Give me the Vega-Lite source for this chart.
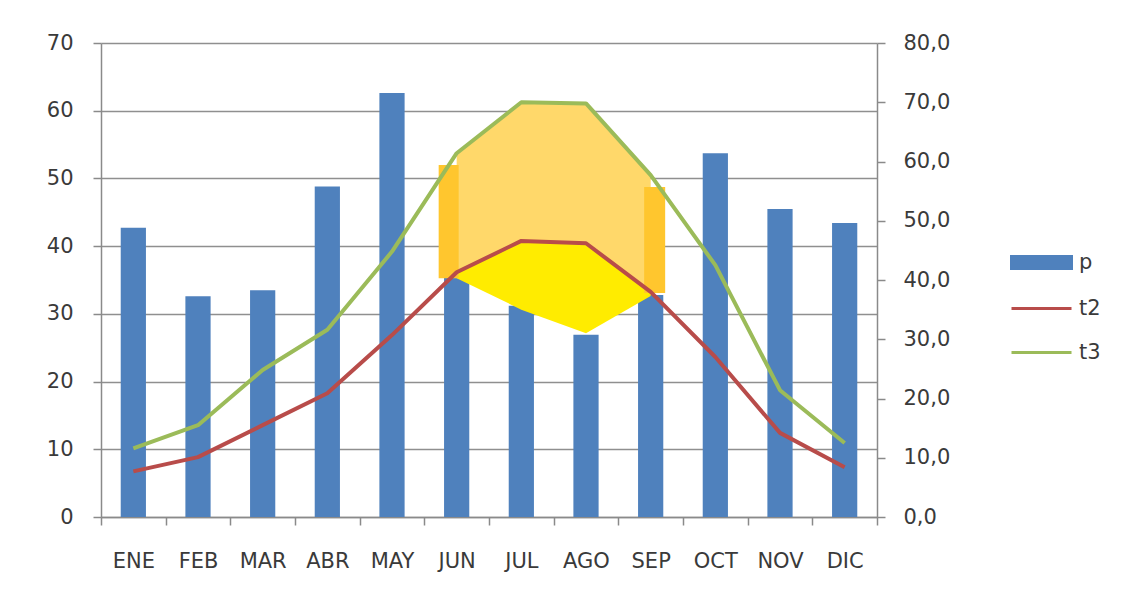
{
  "$schema": "https://vega.github.io/schema/vega-lite/v6.json",
  "width": 776,
  "height": 474,
  "autosize": {"type": "none"},
  "padding": {"left": 101, "top": 43, "right": 249, "bottom": 81},
  "background": "white",
  "config": {
    "font": "DejaVu Sans",
    "view": {"stroke": null},
    "axis": {
      "labelFont": "DejaVu Sans",
      "labelFontSize": 21,
      "labelColor": "#3a3a3a",
      "domainColor": "#8a8a8a",
      "domainWidth": 1.5,
      "tickColor": "#8a8a8a",
      "tickWidth": 1.5,
      "tickSize": 8,
      "gridColor": "#8f8f8f",
      "gridWidth": 1.5,
      "title": null
    },
    "legend": {"title": null}
  },
  "datasets": {
    "clima": [
      {"mes": "ENE", "p": 42.7, "t2": 7.7, "t3": 11.6},
      {"mes": "FEB", "p": 32.6, "t2": 10.1, "t3": 15.5},
      {"mes": "MAR", "p": 33.5, "t2": 15.5, "t3": 24.8},
      {"mes": "ABR", "p": 48.8, "t2": 20.9, "t3": 31.6},
      {"mes": "MAY", "p": 62.6, "t2": 30.7, "t3": 44.8},
      {"mes": "JUN", "p": 35.3, "t2": 41.3, "t3": 61.4},
      {"mes": "JUL", "p": 31.2, "t2": 46.6, "t3": 70.0},
      {"mes": "AGO", "p": 26.9, "t2": 46.2, "t3": 69.8},
      {"mes": "SEP", "p": 32.8, "t2": 38.0, "t3": 57.7},
      {"mes": "OCT", "p": 53.7, "t2": 27.0, "t3": 42.5},
      {"mes": "NOV", "p": 45.5, "t2": 14.2, "t3": 21.4},
      {"mes": "DIC", "p": 43.4, "t2": 8.4, "t3": 12.5}
    ],
    "verano": [
      {"mes": "JUN", "t2": 41.3, "t3": 61.4, "base": 40.3, "franja_alto": 59.4, "franja_bajo": 40.3},
      {"mes": "JUL", "t2": 46.6, "t3": 70.0, "base": 35.0},
      {"mes": "AGO", "t2": 46.2, "t3": 69.8, "base": 31.0},
      {"mes": "SEP", "t2": 38.0, "t3": 57.7, "base": 37.3, "franja_alto": 55.7, "franja_bajo": 37.8}
    ]
  },
  "layer": [
    {
      "data": {"name": "clima"},
      "mark": {"type": "bar", "width": {"band": 0.39}, "color": "#4F81BD"},
      "encoding": {
        "x": {
          "field": "mes", "type": "nominal", "sort": null,
          "scale": {"domain": ["ENE","FEB","MAR","ABR","MAY","JUN","JUL","AGO","SEP","OCT","NOV","DIC"], "paddingInner": 0, "paddingOuter": 0},
          "axis": {"labelAngle": 0, "tickBand": "extent", "labelPadding": 25, "grid": false}
        },
        "y": {
          "field": "p", "type": "quantitative",
          "scale": {"domain": [0, 70]},
          "axis": {"values": [0,10,20,30,40,50,60,70], "grid": true, "labelPadding": 20}
        },
        "color": {
          "datum": "p", "type": "nominal",
          "scale": {"domain": ["p", "t2", "t3"], "range": ["#4F81BD", "#B84C4A", "#9BBB59"]},
          "legend": {
            "orient": "none",
            "legendX": 909,
            "legendY": 188,
            "title": null,
            "padding": 0,
            "symbolSize": 3600,
            "labelFontSize": 21,
            "labelColor": "#3a3a3a",
            "labelOffset": 6,
            "rowPadding": 2,
            "encode": {
              "symbols": {
                "update": {
                  "shape": {"signal": "datum.value === 'p' ? 'M-1,-0.2H1V0.2H-1Z' : 'M-1,0H1'"},
                  "fill": {"signal": "datum.value === 'p' ? '#4F81BD' : 'transparent'"},
                  "stroke": {"signal": "datum.value === 't2' ? '#B84C4A' : (datum.value === 't3' ? '#9BBB59' : 'transparent')"},
                  "strokeWidth": {"value": 3},
                  "opacity": {"value": 1}
                }
              }
            }
          }
        }
      }
    },
    {
      "layer": [
        {
          "data": {"name": "verano"},
          "mark": {"type": "area", "color": "#FFD86A", "opacity": 1},
          "encoding": {
            "x": {"field": "mes", "type": "nominal", "sort": null,
                  "scale": {"domain": ["ENE","FEB","MAR","ABR","MAY","JUN","JUL","AGO","SEP","OCT","NOV","DIC"]}},
            "y": {
              "field": "t3", "type": "quantitative",
              "scale": {"domain": [0, 80]},
              "axis": {
                "orient": "right",
                "values": [0,10,20,30,40,50,60,70,80],
                "grid": false,
                "labelPadding": 18,
                "labelExpr": "replace(format(datum.value, '.1f'), '.', ',')"
              }
            },
            "y2": {"field": "t2"}
          }
        },
        {
          "data": {"name": "verano"},
          "mark": {"type": "area", "color": "#FFEC00", "opacity": 1},
          "encoding": {
            "x": {"field": "mes", "type": "nominal", "sort": null,
                  "scale": {"domain": ["ENE","FEB","MAR","ABR","MAY","JUN","JUL","AGO","SEP","OCT","NOV","DIC"]}},
            "y": {"field": "t2", "type": "quantitative"},
            "y2": {"field": "base"}
          }
        },
        {
          "data": {"name": "verano"},
          "transform": [{"filter": "datum.mes === 'JUN'"}],
          "mark": {"type": "bar", "color": "#FFC62E", "width": 20, "xOffset": -8},
          "encoding": {
            "x": {"field": "mes", "type": "nominal", "sort": null,
                  "scale": {"domain": ["ENE","FEB","MAR","ABR","MAY","JUN","JUL","AGO","SEP","OCT","NOV","DIC"]}},
            "y": {"field": "franja_alto", "type": "quantitative"},
            "y2": {"field": "franja_bajo"}
          }
        },
        {
          "data": {"name": "verano"},
          "transform": [{"filter": "datum.mes === 'SEP'"}],
          "mark": {"type": "bar", "color": "#FFC62E", "width": 21, "xOffset": 4},
          "encoding": {
            "x": {"field": "mes", "type": "nominal", "sort": null,
                  "scale": {"domain": ["ENE","FEB","MAR","ABR","MAY","JUN","JUL","AGO","SEP","OCT","NOV","DIC"]}},
            "y": {"field": "franja_alto", "type": "quantitative"},
            "y2": {"field": "franja_bajo"}
          }
        },
        {
          "data": {"name": "clima"},
          "transform": [{"fold": ["t2", "t3"], "as": ["serie", "valor"]}],
          "mark": {"type": "line", "strokeWidth": 4, "strokeJoin": "round"},
          "encoding": {
            "x": {"field": "mes", "type": "nominal", "sort": null,
                  "scale": {"domain": ["ENE","FEB","MAR","ABR","MAY","JUN","JUL","AGO","SEP","OCT","NOV","DIC"]}},
            "y": {"field": "valor", "type": "quantitative"},
            "color": {"field": "serie", "type": "nominal", "legend": {"title": null}}
          }
        }
      ]
    }
  ],
  "resolve": {"scale": {"y": "independent"}}
}
